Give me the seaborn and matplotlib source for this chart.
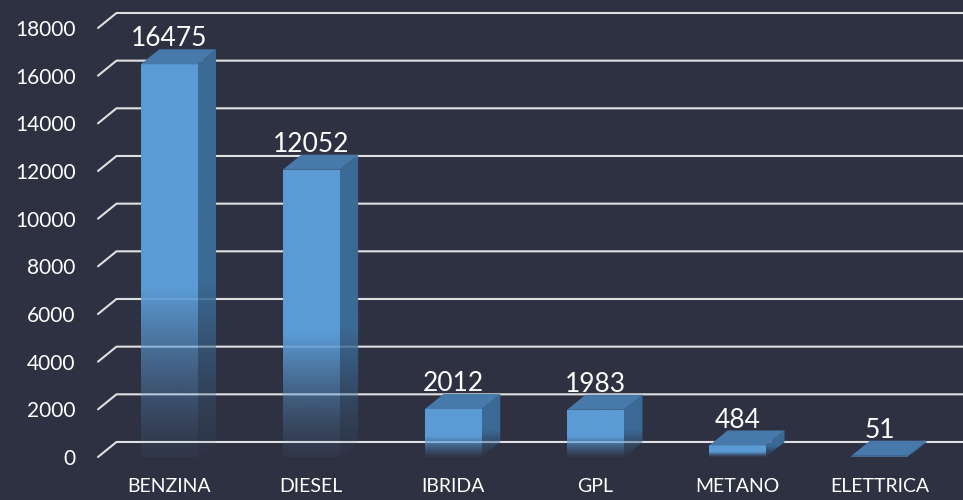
import numpy as np
import pandas as pd
import matplotlib
matplotlib.use('Agg')
import matplotlib.pyplot as plt
import seaborn as sns
from matplotlib.patches import Polygon, Rectangle
from matplotlib.colors import to_rgb

# dati
categorie = ['BENZINA', 'DIESEL', 'IBRIDA', 'GPL', 'METANO', 'ELETTRICA']
valori = [16475, 12052, 2012, 1983, 484, 51]
tick_y = list(range(0, 18001, 2000))

# colori
sfondo = '#2e3141'
fronte = '#5b9bd5'
sopra = '#4779ab'
lato = '#3b6a95'
griglia = '#e0e0e0'

# profondita' finta 3D (in unita' dati)
DX = 0.13
DY = 630
XMAX = 5.585

sns.set_style('dark', rc={'axes.facecolor': sfondo, 'figure.facecolor': sfondo})
plt.rcParams['font.family'] = ['Lato', 'DejaVu Sans']

fig = plt.figure(figsize=(9.63, 5.0), dpi=100, facecolor=sfondo)
ax = fig.add_axes([98 / 963, 43 / 500, 1 - 98 / 963, 429 / 500])
ax.set_facecolor(sfondo)

df = pd.DataFrame({'tipo': categorie, 'valore': valori})
sns.barplot(data=df, x='tipo', y='valore', width=0.4, color=fronte, ax=ax)


def sfumatura(colore, n=256):
    f = np.linspace(0, 1, n)
    img = np.zeros((n, 1, 4))
    img[..., :3] = to_rgb(colore)
    img[:, 0, 3] = np.clip(0.06 + (f / 0.45) ** 1.3, 0, 1)
    return img


for p, v in zip(ax.patches, valori):
    x0, w, h = p.get_x(), p.get_width(), p.get_height()
    p.set_facecolor('none')
    p.set_edgecolor('none')

    # faccia frontale sfumata
    clip = Rectangle((x0, 0), w, h, transform=ax.transData, facecolor='none', edgecolor='none')
    ax.add_patch(clip)
    im = ax.imshow(sfumatura(fronte), extent=[x0, x0 + w, 0, h], origin='lower',
                   aspect='auto', interpolation='bilinear', zorder=3)
    im.set_clip_path(clip)

    # faccia laterale
    pts_lato = [(x0 + w, 0), (x0 + w + DX, DY), (x0 + w + DX, h + DY), (x0 + w, h)]
    clip2 = Polygon(pts_lato, closed=True, transform=ax.transData, facecolor='none', edgecolor='none')
    ax.add_patch(clip2)
    im2 = ax.imshow(sfumatura(lato), extent=[x0 + w, x0 + w + DX, 0, h + DY], origin='lower',
                    aspect='auto', interpolation='bilinear', zorder=3)
    im2.set_clip_path(clip2)

    # faccia superiore
    pts_sopra = [(x0, h), (x0 + DX, h + DY), (x0 + w + DX, h + DY), (x0 + w, h)]
    ax.add_patch(Polygon(pts_sopra, closed=True, facecolor=sopra, edgecolor='none',
                         zorder=4, clip_on=False))

    ax.text(x0 + w / 2, h + DY + 120, str(v), ha='center', va='baseline',
            color='white', fontsize=19, zorder=5)

# griglia sulla parete di fondo
for t in tick_y:
    ax.plot([-0.5, -0.5 + DX, XMAX], [t, t + DY, t + DY], color=griglia, lw=1.5,
            zorder=1, clip_on=False, solid_joinstyle='miter')

ax.set_xlim(-0.5, XMAX)
ax.set_ylim(0, 18000)
ax.set_yticks(tick_y)
ax.set_xlabel('')
ax.set_ylabel('')
ax.tick_params(axis='y', length=0, pad=16, labelsize=15, labelcolor='white')
ax.tick_params(axis='x', length=0, pad=15, labelsize=14, labelcolor='white')
ax.grid(False)
for s in ax.spines.values():
    s.set_visible(False)

fig.savefig('out.png', dpi=100, facecolor=sfondo)
